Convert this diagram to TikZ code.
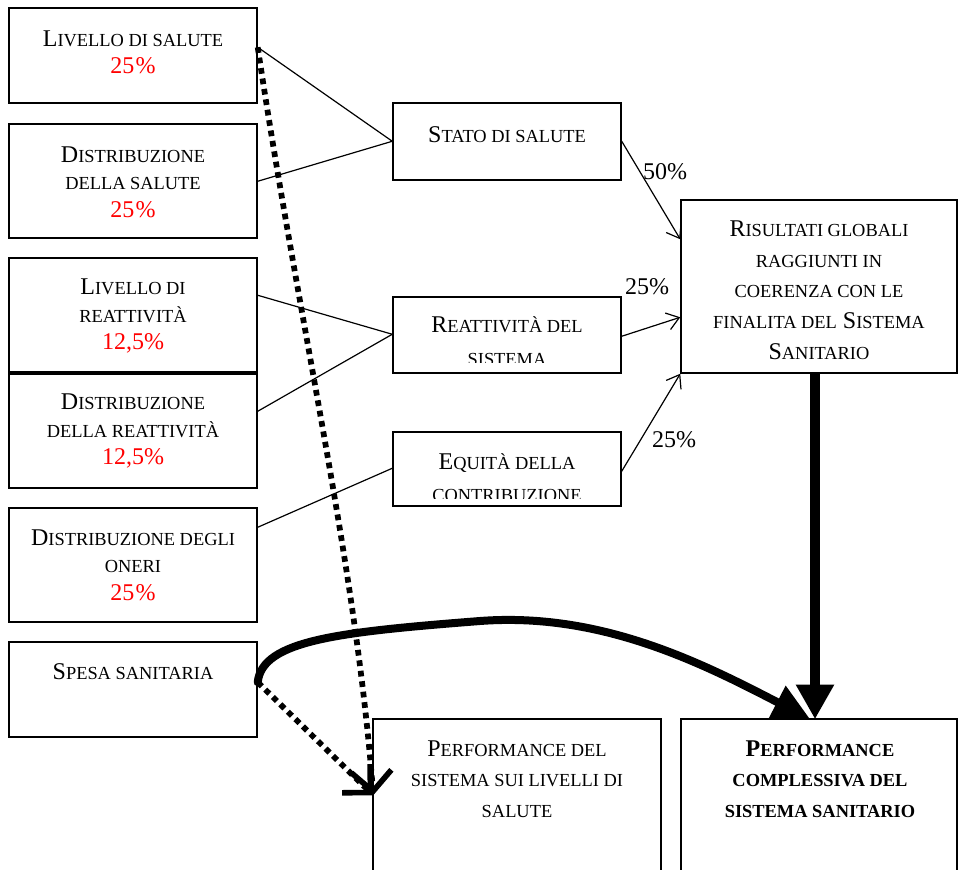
\documentclass[tikz,border=0pt]{standalone}
\usepackage{fontspec}
\setmainfont{Liberation Serif}
\usetikzlibrary{arrows.meta,fit,calc}
\newcommand\smc[1]{{\fontsize{13.8}{13.8}\selectfont #1}}
\definecolor{pctred}{RGB}{255,0,0}
\newcommand\pct[1]{\textcolor{pctred}{#1}}
\begin{document}
\begin{tikzpicture}[x=0.75pt,y=-0.75pt,
  box/.style={draw,line width=1.1pt,inner sep=0pt},
  txt/.style={align=center,font=\fontsize{18}{20.5}\selectfont,inner sep=0pt},
  rtxt/.style={align=center,font=\fontsize{18}{23}\selectfont,inner sep=0pt},
  lbl/.style={font=\fontsize{18}{20}\selectfont,inner sep=0pt},
  conn/.style={line width=0.9pt},
  carrow/.style={conn,-{Straight Barb[length=9pt,width=13pt,line width=0.9pt]}},
  bigarrow/.style={line width=7.5pt,-{Triangle[length=26pt,width=27pt]}},
  curvearrow/.style={line width=6pt,line cap=round,-{Triangle[length=28pt,width=26pt]}},
  dotarrow/.style={line width=4.3pt,dash pattern=on 4.3pt off 3.6pt,-{Straight Barb[length=15pt,width=30pt,line width=4.2pt]}}]
\useasboundingbox (0,0) rectangle (958,870);

% left boxes
\node[box,fit={(9,8)(257,103)}] (b1) {};
\node[box,fit={(9,124)(257,238)}] (b2) {};
\node[box,fit={(9,258)(257,372)}] (b3) {};
\node[box,fit={(9,374)(257,488)}] (b4) {};
\node[box,fit={(9,508)(257,622)}] (b5) {};
\node[box,fit={(9,642)(257,737)}] (b6) {};

\node[txt] (t1) at (133,52) {L\smc{IVELLO DI SALUTE}\\\pct{25\kern1pt\%}};
\node[txt] (t2) at (133,182) {D\smc{ISTRIBUZIONE}\\\smc{DELLA SALUTE}\\\pct{25\kern1pt\%}};
\node[txt] (t3) at (133,316) {L\smc{IVELLO DI}\\\smc{REATTIVITÀ}\\\pct{12,5\%}};
\node[txt] (t4) at (133,431) {D\smc{ISTRIBUZIONE}\\\smc{DELLA REATTIVITÀ}\\\pct{12,5\%}};
\node[txt] (t5) at (133,565) {D\smc{ISTRIBUZIONE DEGLI}\\\smc{ONERI}\\\pct{25\kern1pt\%}};
\node[txt] (t6) at (133,672) {S\smc{PESA SANITARIA}};

% middle boxes
\node[box,fit={(393,103)(621,180)}] (st) {};
\node[box,fit={(393,297)(621,373)}] (re) {};
\node[box,fit={(393,432)(621,506)}] (eq) {};
\node[txt] (tst) at (507,135) {S\smc{TATO DI SALUTE}};
\begin{scope}
  \clip (393,297) rectangle (621,362.5);
  \node[txt,anchor=base] (tre1) at (507,333) {R\smc{EATTIVITÀ DEL}};
  \node[txt,anchor=base] (tre2) at (507,365) {\smc{SISTEMA}};
\end{scope}
\begin{scope}
  \clip (393,432) rectangle (621,498.5);
  \node[txt,anchor=base] (teq1) at (507,469) {E\smc{QUITÀ DELLA}};
  \node[txt,anchor=base] (teq2) at (507,501) {\smc{CONTRIBUZIONE}};
\end{scope}

% right boxes
\node[box,fit={(681,200)(957,373)}] (ris) {};
\node[rtxt] (tris) at (819,290) {R\smc{ISULTATI GLOBALI}\\\smc{RAGGIUNTI IN}\\\smc{COERENZA CON LE}\\\smc{FINALITA DEL} S\smc{ISTEMA}\\S\smc{ANITARIO}};

% bottom boxes
\node[box,fit={(373,719)(661,880)}] (ps) {};
\node[box,fit={(681,719)(957,880)}] (pc) {};
\node[rtxt] (tps) at (517,779) {P\smc{ERFORMANCE DEL}\\\smc{SISTEMA SUI LIVELLI DI}\\\smc{SALUTE}};
\node[rtxt] (tpc) at (820,779) {\bfseries P\smc{ERFORMANCE}\\\bfseries\smc{COMPLESSIVA DEL}\\\bfseries\smc{SISTEMA SANITARIO}};

% connectors left -> middle
\draw[conn] ($(b1.north east)+(0,40)$) -- ($(st.north west)+(0,39)$);
\draw[conn] ($(b2.north east)+(0,58)$) -- ($(st.north west)+(0,39)$);
\draw[conn] ($(b3.north east)+(0,38)$) -- ($(re.north west)+(0,38)$);
\draw[conn] ($(b4.north east)+(0,38)$) -- ($(re.north west)+(0,38)$);
\draw[conn] ($(b5.north east)+(0,20)$) -- ($(eq.north west)+(0,37)$);

% middle -> risultati
\draw[carrow] ($(st.north east)+(0,39)$) -- ($(ris.north west)+(0,40)$);
\draw[carrow] ($(re.north east)+(0,40)$) -- ($(ris.north west)+(0,118)$);
\draw[carrow] ($(eq.north east)+(0,40)$) -- (ris.south west);
\node[lbl] (l50) at (665,172) {50\%};
\node[lbl] (l25a) at (647,287) {25\%};
\node[lbl] (l25b) at (674,440) {25\%};

% risultati -> performance complessiva
\draw[bigarrow] ($(ris.south)+(-4,0)$) -- ($(pc.north)+(-4,1)$);

% spesa -> performance complessiva
\draw[curvearrow] ($(b6.north east)+(0,41)$) .. controls (262,640) and (340,632) .. (480,621)
  .. controls (600,612) and (700,662) .. ($(pc.north west)+(130,1)$);

% dotted arrows
\coordinate (dend) at ($(ps.north west)+(1,77)$);
\draw[dotarrow] ($(b1.north east)+(0,40)$) .. controls (300,330) and (355,560) .. (dend);
\draw[dotarrow] ($(b6.north east)+(0,41)$) -- (dend);
\end{tikzpicture}
\end{document}
